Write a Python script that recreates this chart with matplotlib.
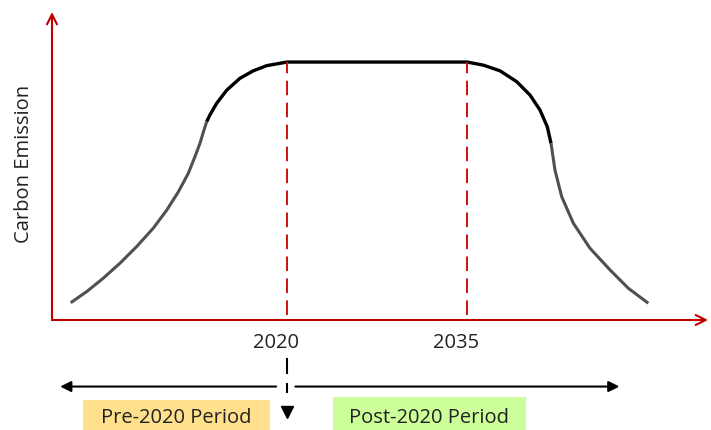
import matplotlib.pyplot as plt
from matplotlib.patches import Rectangle

# curve: year vs emission (0 = x axis, 100 = plateau)
rise_years = [2001.98, 2003.31, 2004.69, 2006.08, 2007.48, 2008.86, 2009.98,
              2010.95, 2011.78, 2012.33, 2012.75, 2013.08, 2013.31]
rise_vals = [6.7, 11.0, 16.2, 22.0, 28.5, 35.6, 42.6,
             49.7, 56.9, 63.3, 68.5, 73.6, 76.9]

peak_years = [2013.31, 2013.58, 2014.14, 2014.98, 2016.08, 2017.19, 2018.31,
              2020, 2035, 2036.36, 2037.75, 2039.14, 2040.25, 2041.08,
              2041.69, 2042.0]
peak_vals = [76.9, 79.5, 84.0, 89.1, 93.7, 96.6, 98.6,
             100, 100, 98.8, 96.6, 92.4, 87.2, 81.4,
             74.9, 68.5]

fall_years = [2042.0, 2042.33, 2042.89, 2043.86, 2045.25, 2046.92, 2048.44,
              2050.11]
fall_vals = [68.5, 58.1, 47.8, 37.5, 27.8, 19.4, 12.3, 6.5]

marker_years = [2020, 2035]
marker_labels = ['2020', '2035']
periods = ['Pre-2020 Period', 'Post-2020 Period']
period_colors = ['#FFE08C', '#CCFF99']

RED = '#C00000'
plt.rcParams['font.family'] = ['Open Sans', 'DejaVu Sans']

fig = plt.figure(figsize=(7.11, 4.30), dpi=100)
ax = fig.add_axes([52 / 711, 1 - 320 / 430, 656 / 711, 308 / 430])
ax.set_xlim(2000.42, 2055.08)
ax.set_ylim(0, 119.4)
ax.axis('off')

# axes with open arrow heads
ax.annotate('', xy=(0, 1), xytext=(0, 0), xycoords='axes fraction',
            arrowprops=dict(arrowstyle='->', color=RED, lw=1.5,
                            mutation_scale=18, shrinkA=0, shrinkB=0))
ax.annotate('', xy=(1, 0), xytext=(0, 0), xycoords='axes fraction',
            arrowprops=dict(arrowstyle='->', color=RED, lw=1.5,
                            mutation_scale=18, shrinkA=0, shrinkB=0))

ax.plot(rise_years, rise_vals, color='#505050', lw=2.2,
        solid_capstyle='butt', solid_joinstyle='round')
ax.plot(fall_years, fall_vals, color='#505050', lw=2.2,
        solid_capstyle='butt', solid_joinstyle='round')
ax.plot(peak_years, peak_vals, color='black', lw=2.4,
        solid_capstyle='butt', solid_joinstyle='round')

ax.vlines(marker_years, 1.9, 100, colors='#CC1111', lw=1.4,
          linestyles=(0, (7.5, 3.8)))

for yr, lab in zip(marker_years, marker_labels):
    ax.text(yr - 0.9, -8.8, lab, ha='center', va='center', fontsize=14.5,
            color='#222222', clip_on=False)
ax.text(-0.042, 0.506, 'Carbon Emission', transform=ax.transAxes, rotation=90,
        ha='center', va='center', fontsize=14.5, color='#222222')

# timeline below the chart
yline = -25.8
ax.annotate('', xy=(2001.1, yline), xytext=(2019.1, yline),
            arrowprops=dict(arrowstyle='-|>', color='black', lw=1.5,
                            mutation_scale=16, shrinkA=0, shrinkB=0),
            annotation_clip=False)
ax.annotate('', xy=(2047.7, yline), xytext=(2020.7, yline),
            arrowprops=dict(arrowstyle='-|>', color='black', lw=1.5,
                            mutation_scale=16, shrinkA=0, shrinkB=0),
            annotation_clip=False)
ax.plot([2020, 2020], [-15.1, -20.5], color='black', lw=1.5, clip_on=False)
ax.plot([2020, 2020], [-24.8, -27.9], color='black', lw=1.5, clip_on=False)
ax.plot([2020], [-35.5], marker='v', color='black', ms=8, clip_on=False)

box_x = [(2003.0, 2018.6), (2023.8, 2039.9)]
box_y = [(-42.6, -31.0), (-42.6, -29.8)]
for (x0, x1), (y0, y1), lab, col in zip(box_x, box_y, periods, period_colors):
    ax.add_patch(Rectangle((x0, y0), x1 - x0, y1 - y0, facecolor=col,
                           edgecolor='none', clip_on=False))
    ax.text((x0 + x1) / 2, -38.0, lab, ha='center', va='center',
            fontsize=14.5, color='#222222', clip_on=False)

fig.savefig('out.png', dpi=100)
